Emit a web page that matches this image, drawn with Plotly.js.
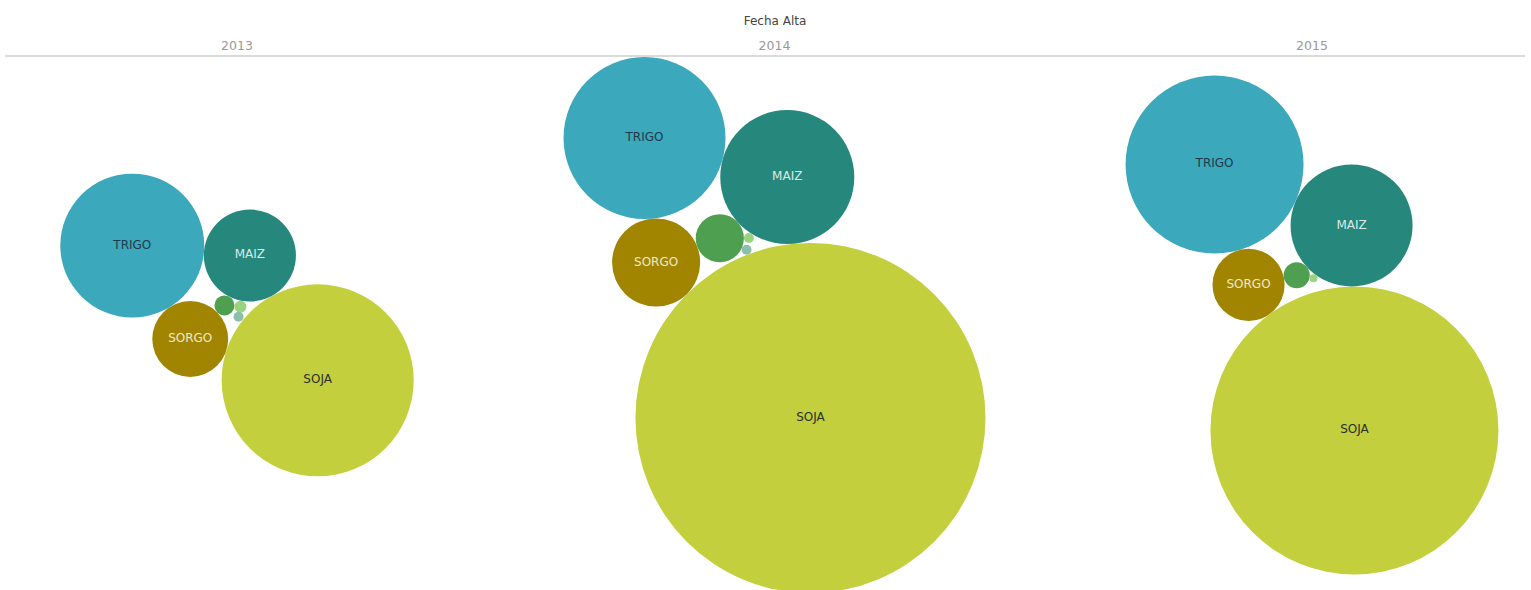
<!DOCTYPE html>
<html>
<head>
<meta charset="utf-8">
<script src="https://cdn.plot.ly/plotly-3.0.1.min.js"></script>
<style>html,body{margin:0;padding:0;background:#fff;}#chart{width:1531px;height:590px;}</style>
</head>
<body>
<div id="chart"></div>
<script>
// ---- data (bubble area proportional to value) ----
const years = ['2013', '2014', '2015'];
const crops = ['SOJA', 'TRIGO', 'MAIZ', 'SORGO', 'GIRASOL', 'CEBADA', 'AVENA'];
const soja    = [922, 3063, 2074];
const trigo   = [518, 656, 792];
const maiz    = [212, 449, 372];
const sorgo   = [144, 194, 130];
const girasol = [10, 58, 17];
const cebada  = [3.6, 2.5, 1.6];
const avena   = [2.5, 2.5, null];
const values = [soja, trigo, maiz, sorgo, girasol, cebada, avena];

// ---- styles ----
const colors = ['#c3cf3c', '#3ba8bc', '#26877c', '#a18500', '#4e9f50', '#9ad37f', '#8cbfab'];
const labelColors = ['#2a3030', '#1f3a4a', '#d9ebe6', '#f0e8c8', '#333', '#333', '#333'];
const showLabel = [true, true, true, true, false, false, false];
const FONT = 'DejaVu Sans, sans-serif';

// ---- layout parameters of the packing ----
const PX_PER_SQRT = Math.sqrt(10);
const colCenters = [237, 774.5, 1312];
const cellMidY = 325;
const maizAngle = [-118.5, -95.5, -90.8];   // direction MAIZ from SOJA
const trigoAngle = [-175.2, -164.7, -156];  // direction TRIGO from MAIZ

function rad(v) { return v == null ? 0 : Math.sqrt(v) * PX_PER_SQRT; }
function tangent(A, B, r, ref, closer) {
  const da = A.r + r, db = B.r + r;
  const dx = B.x - A.x, dy = B.y - A.y;
  const d = Math.hypot(dx, dy);
  const a = (da * da - db * db + d * d) / (2 * d);
  const h = Math.sqrt(Math.max(0, da * da - a * a));
  const px = A.x + a * dx / d, py = A.y + a * dy / d;
  const s1 = {x: px - h * dy / d, y: py + h * dx / d, r: r};
  const s2 = {x: px + h * dy / d, y: py - h * dx / d, r: r};
  const d1 = Math.hypot(s1.x - ref.x, s1.y - ref.y);
  const d2 = Math.hypot(s2.x - ref.x, s2.y - ref.y);
  return (closer ? d1 <= d2 : d1 > d2) ? s1 : s2;
}
function place(yi) {
  const r = values.map(arr => rad(arr[yi]));
  const c = [];
  c[0] = {x: 0, y: 0, r: r[0]};
  let a = maizAngle[yi] * Math.PI / 180;
  c[2] = {x: (r[0] + r[2]) * Math.cos(a), y: (r[0] + r[2]) * Math.sin(a), r: r[2]};
  a = trigoAngle[yi] * Math.PI / 180;
  c[1] = {x: c[2].x + (r[2] + r[1]) * Math.cos(a), y: c[2].y + (r[2] + r[1]) * Math.sin(a), r: r[1]};
  c[3] = tangent(c[1], c[0], r[3], c[2], false);
  c[4] = tangent(c[3], c[2], r[4], c[0], true);
  c[5] = tangent(c[4], c[2], r[5], c[0], true);
  c[6] = r[6] > 0 ? tangent(c[4], c[0], r[6], c[2], true) : null;
  let x0 = Infinity, x1 = -Infinity, y0 = Infinity, y1 = -Infinity;
  c.forEach(k => { if (!k) return; x0 = Math.min(x0, k.x - k.r); x1 = Math.max(x1, k.x + k.r); y0 = Math.min(y0, k.y - k.r); y1 = Math.max(y1, k.y + k.r); });
  const ox = colCenters[yi] - (x0 + x1) / 2, oy = cellMidY - (y0 + y1) / 2;
  return c.map(k => k ? {x: k.x + ox, y: k.y + oy, r: k.r} : null);
}
const placed = years.map((y, i) => place(i));

const traces = crops.map((name, ci) => {
  const xs = [], ys = [], ss = [], tx = [], ht = [];
  years.forEach((yr, yi) => {
    const p = placed[yi][ci];
    if (!p || values[ci][yi] == null) return;
    xs.push(p.x); ys.push(p.y); ss.push(2 * p.r);
    tx.push(showLabel[ci] ? name : '');
    ht.push(name + ' ' + yr + ': ' + values[ci][yi]);
  });
  return {
    type: 'scatter', mode: 'markers+text', x: xs, y: ys, text: tx,
    hovertext: ht, hoverinfo: 'text', cliponaxis: false,
    textposition: 'middle center',
    textfont: {family: FONT, size: 12, color: labelColors[ci]},
    marker: {size: ss, sizemode: 'diameter', sizeref: 1, color: colors[ci], line: {width: 0}, opacity: 1},
    showlegend: false
  };
});

const layout = {
  width: 1531, height: 590,
  margin: {l: 5, r: 6, t: 57, b: 0, pad: 0},
  paper_bgcolor: '#fff', plot_bgcolor: '#fff',
  title: {text: 'Fecha Alta', x: 775 / 1531, xanchor: 'center', y: 1 - 21 / 590, yanchor: 'middle',
          font: {family: FONT, size: 12, color: '#444'}},
  xaxis: {range: [5, 1525], side: 'top', tickvals: colCenters, ticktext: years, ticks: '',
          showline: true, linecolor: '#dadada', linewidth: 1.5, showgrid: false, zeroline: false,
          tickfont: {family: FONT, size: 12.5, color: '#999'}, fixedrange: true},
  yaxis: {range: [590, 57], visible: false, showgrid: false, zeroline: false, fixedrange: true},
  hovermode: 'closest'
};
Plotly.newPlot('chart', traces, layout, {displayModeBar: false, responsive: false});
</script>
</body>
</html>
